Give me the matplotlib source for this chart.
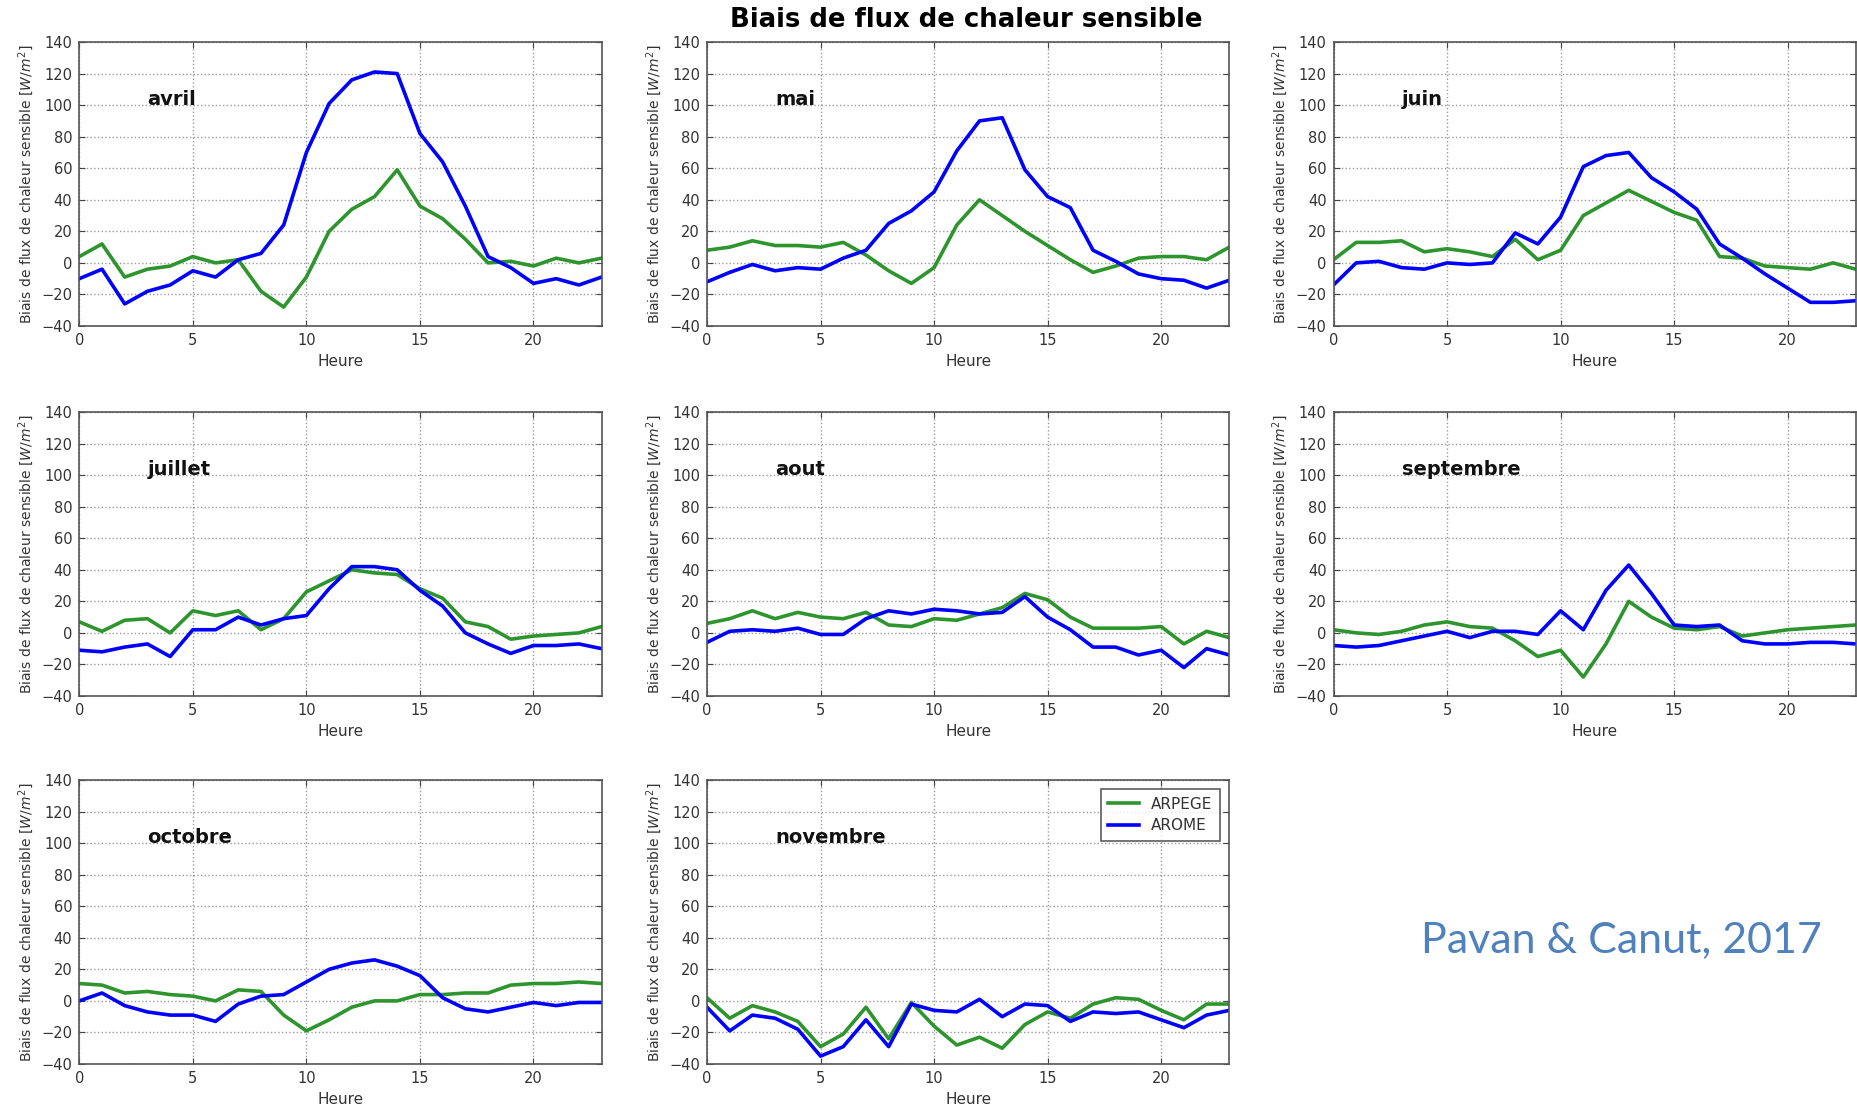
#!/usr/bin/env python3
"""
Biais de flux de chaleur sensible : cycle diurne moyen ARPEGE / AROME,
un panneau par mois (avril -> novembre).
"""

import matplotlib
matplotlib.use("Agg")
import matplotlib.pyplot as plt


# ==============================
# Data
# ==============================

HOURS = list(range(24))
MONTHS = ["avril", "mai", "juin", "juillet", "aout", "septembre", "octobre", "novembre"]

arpege_avril = [4, 12, -9, -4, -2, 4, 0, 2, -18, -28, -9, 20, 34, 42, 59, 36, 28, 15, 0, 1, -2, 3, 0, 3]
arome_avril = [-10, -4, -26, -18, -14, -5, -9, 2, 6, 24, 70, 101, 116, 121, 120, 82, 64, 36, 4, -3, -13, -10, -14, -9]

arpege_mai = [8, 10, 14, 11, 11, 10, 13, 5, -5, -13, -3, 24, 40, 30, 20, 11, 2, -6, -2, 3, 4, 4, 2, 10]
arome_mai = [-12, -6, -1, -5, -3, -4, 3, 8, 25, 33, 45, 71, 90, 92, 59, 42, 35, 8, 1, -7, -10, -11, -16, -11]

arpege_juin = [2, 13, 13, 14, 7, 9, 7, 4, 15, 2, 8, 30, 38, 46, 39, 32, 27, 4, 3, -2, -3, -4, 0, -4]
arome_juin = [-14, 0, 1, -3, -4, 0, -1, 0, 19, 12, 29, 61, 68, 70, 54, 45, 34, 12, 3, -7, -16, -25, -25, -24]

arpege_juillet = [7, 1, 8, 9, 0, 14, 11, 14, 2, 9, 26, 33, 40, 38, 37, 28, 22, 7, 4, -4, -2, -1, 0, 4]
arome_juillet = [-11, -12, -9, -7, -15, 2, 2, 10, 5, 9, 11, 28, 42, 42, 40, 27, 17, 0, -7, -13, -8, -8, -7, -10]

arpege_aout = [6, 9, 14, 9, 13, 10, 9, 13, 5, 4, 9, 8, 12, 16, 25, 21, 10, 3, 3, 3, 4, -7, 1, -3]
arome_aout = [-6, 1, 2, 1, 3, -1, -1, 9, 14, 12, 15, 14, 12, 13, 23, 10, 2, -9, -9, -14, -11, -22, -10, -14]

arpege_septembre = [2, 0, -1, 1, 5, 7, 4, 3, -5, -15, -11, -28, -7, 20, 10, 3, 2, 4, -2, 0, 2, 3, 4, 5]
arome_septembre = [-8, -9, -8, -5, -2, 1, -3, 1, 1, -1, 14, 2, 27, 43, 25, 5, 4, 5, -5, -7, -7, -6, -6, -7]

arpege_octobre = [11, 10, 5, 6, 4, 3, 0, 7, 6, -9, -19, -12, -4, 0, 0, 4, 4, 5, 5, 10, 11, 11, 12, 11]
arome_octobre = [0, 5, -3, -7, -9, -9, -13, -2, 3, 4, 12, 20, 24, 26, 22, 16, 2, -5, -7, -4, -1, -3, -1, -1]

arpege_novembre = [2, -11, -3, -7, -13, -29, -21, -4, -24, -1, -16, -28, -23, -30, -15, -7, -11, -2, 2, 1, -6, -12, -2, -2]
arome_novembre = [-4, -19, -9, -11, -18, -35, -29, -12, -29, -2, -6, -7, 1, -10, -2, -3, -13, -7, -8, -7, -12, -17, -9, -6]

ARPEGE = [arpege_avril, arpege_mai, arpege_juin, arpege_juillet,
          arpege_aout, arpege_septembre, arpege_octobre, arpege_novembre]
AROME = [arome_avril, arome_mai, arome_juin, arome_juillet,
         arome_aout, arome_septembre, arome_octobre, arome_novembre]

Y_TICKS = list(range(-40, 141, 20))
X_TICKS = [0, 5, 10, 15, 20]


# ==============================
# Configuration
# ==============================

FIG_W, FIG_H = 1857, 1114
DPI = 100

COLOR_ARPEGE = "#2e952e"
COLOR_AROME = "#0000ff"
CREDIT_COLOR = "#4f81bd"

YLABEL = "Biais de flux de chaleur sensible $[W/m^2]$"

# axes boxes in pixels (left, top) ; each panel is 522 x 284 px
COL_LEFT = [79.3, 707.0, 1333.5]
ROW_TOP = [42.0, 412.0, 780.0]
AX_W, AX_H = 522.3, 284.0


def panel_rect(row, col):
    left = COL_LEFT[col] / FIG_W
    bottom = 1 - (ROW_TOP[row] + AX_H) / FIG_H
    return [left, bottom, AX_W / FIG_W, AX_H / FIG_H]


def draw_panel(ax, month, arpege, arome, legend=False):
    ax.plot(HOURS, arpege, color=COLOR_ARPEGE, lw=2.6, label="ARPEGE")
    ax.plot(HOURS, arome, color=COLOR_AROME, lw=2.6, label="AROME")

    ax.set_xlim(0, 23)
    ax.set_ylim(-40, 140)
    ax.set_xticks(X_TICKS)
    ax.set_yticks(Y_TICKS)
    ax.grid(True, color="#9a9a9a", ls=":", lw=1.0)
    ax.tick_params(direction="in", top=True, right=True, length=4,
                   labelsize=10.5, labelcolor="#333333", color="#444444", pad=5)
    for sp in ax.spines.values():
        sp.set_color("#555555")
        sp.set_linewidth(1.2)

    ax.set_xlabel("Heure", fontsize=11, color="#333333", labelpad=4)
    ax.set_ylabel(YLABEL, fontsize=10, color="#333333", labelpad=4)

    ax.text(3, 100, month, fontsize=14, fontweight="bold", color="#111111")

    if legend:
        leg = ax.legend(loc="upper right", fontsize=11, fancybox=False,
                        frameon=True, borderpad=0.5, handlelength=2.0,
                        labelspacing=0.4, borderaxespad=0.6)
        leg.get_frame().set_edgecolor("#333333")
        leg.get_frame().set_linewidth(1.2)
        for t in leg.get_texts():
            t.set_color("#333333")


# ==============================
# Main
# ==============================

def main():
    fig = plt.figure(figsize=(FIG_W / DPI, FIG_H / DPI), dpi=DPI)
    fig.patch.set_facecolor("white")

    for i, month in enumerate(MONTHS):
        row, col = divmod(i, 3)
        ax = fig.add_axes(panel_rect(row, col))
        draw_panel(ax, month, ARPEGE[i], AROME[i], legend=(month == "novembre"))

    fig.text(966 / FIG_W, 1 - 20 / FIG_H, "Biais de flux de chaleur sensible",
             fontsize=18.7, fontweight="bold", ha="center", va="center")

    fig.text(1421 / FIG_W, 1 - 952 / FIG_H, "Pavan & Canut, 2017",
             fontsize=31, color=CREDIT_COLOR, family="Lato",
             ha="left", va="baseline")

    fig.savefig("out.png", dpi=DPI)


if __name__ == "__main__":
    main()
